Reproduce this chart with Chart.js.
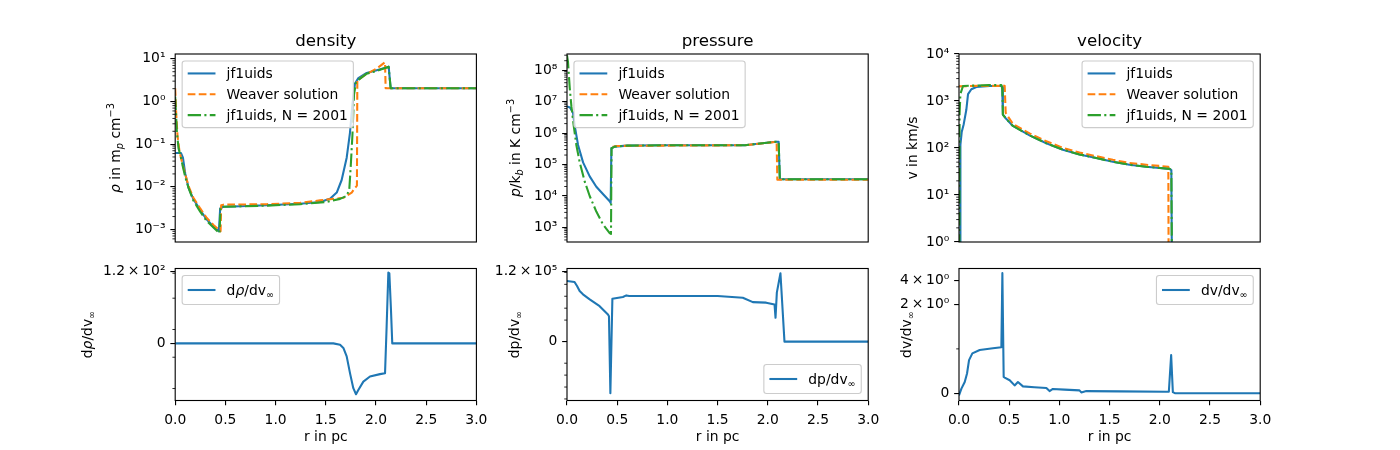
<!DOCTYPE html>
<html>
<head>
<meta charset="utf-8">
<script src="https://cdn.jsdelivr.net/npm/chart.js@4.4.1/dist/chart.umd.min.js"></script>
<style>
  body { margin: 0; background: #fff; }
  #fig { position: relative; width: 1400px; height: 450px; overflow: hidden; }
  #fig canvas { position: absolute; }
</style>
</head>
<body>
<div id="fig"></div>
<script>
// ---- values (r in pc) ----
const xTicks = [0, 0.5, 1, 1.5, 2, 2.5, 3];

// density, rho in m_p cm^-3
const rhoSimR = [0, 0.057, 0.077, 0.1, 0.133, 0.18, 0.249, 0.315, 0.381, 0.435, 0.448, 0.48, 0.58, 0.912, 1.244, 1.443, 1.542, 1.609, 1.658, 1.708, 1.741, 1.765, 1.791, 1.824, 1.907, 2.007, 2.106, 2.126, 2.146, 3.0];
const rhoSimV = [0.062, 0.062, 0.048, 0.0203, 0.0094, 0.0052, 0.00284, 0.0017, 0.00115, 0.00091, 0.0031, 0.0034, 0.00343, 0.00367, 0.004, 0.0044, 0.0052, 0.0073, 0.0144, 0.048, 0.187, 0.87, 2.65, 3.55, 4.66, 5.43, 6.24, 6.57, 2.05, 2.05];
const rhoWeaverR = [0, 0.01, 0.023, 0.043, 0.077, 0.133, 0.18, 0.249, 0.315, 0.381, 0.452, 0.458, 0.481, 0.912, 1.244, 1.443, 1.675, 1.758, 1.791, 1.81, 1.814, 1.907, 2.007, 2.09, 2.096, 3.0];
const rhoWeaverV = [2.05, 0.52, 0.157, 0.067, 0.031, 0.0103, 0.0056, 0.0031, 0.00185, 0.00127, 0.0009, 0.0037, 0.0038, 0.0039, 0.0042, 0.0048, 0.0055, 0.0073, 0.0094, 0.0106, 3.14, 4.43, 5.93, 8.32, 2.05, 2.05];
const rhoHiresR = [0, 0.017, 0.033, 0.057, 0.077, 0.1, 0.133, 0.18, 0.249, 0.315, 0.381, 0.441, 0.452, 0.48, 0.912, 1.244, 1.509, 1.642, 1.708, 1.734, 1.748, 1.765, 1.781, 1.801, 1.907, 2.007, 2.126, 2.146, 3.0];
const rhoHiresV = [1.3, 0.19, 0.08, 0.048, 0.029, 0.017, 0.0094, 0.0048, 0.0026, 0.00156, 0.00111, 0.00081, 0.0033, 0.0034, 0.0036, 0.0039, 0.0044, 0.0052, 0.0061, 0.0087, 0.029, 0.157, 1.45, 2.9, 4.5, 5.2, 6.5, 2.05, 2.05];
const densityTicks = [1e-3, 1e-2, 1e-1, 1, 10];

// pressure, p/k_b in K cm^-3
const pSimR = [0, 0.03, 0.06, 0.077, 0.11, 0.16, 0.226, 0.292, 0.358, 0.425, 0.435, 0.442, 0.475, 0.6, 1.0, 1.77, 2.08, 2.108, 2.12, 3.0];
const pSimV = [7.0e6, 6.5e6, 4.4e6, 1.7e6, 4.2e5, 1.17e5, 4.2e4, 1.96e4, 1.15e4, 6.8e3, 6.0e3, 3.3e5, 3.7e5, 4.0e5, 4.1e5, 4.1e5, 5.3e5, 5.3e5, 3.4e4, 3.4e4];
const pWeaverR = [0.455, 0.5, 1.0, 1.77, 2.075, 2.088, 2.095, 3.0];
const pWeaverV = [3.7e5, 3.9e5, 4.0e5, 4.1e5, 5.2e5, 5.2e5, 3.3e4, 3.3e4];
const pHiresR = [0, 0.01, 0.027, 0.044, 0.067, 0.093, 0.126, 0.176, 0.226, 0.292, 0.358, 0.425, 0.438, 0.444, 0.475, 0.6, 1.0, 1.77, 2.08, 2.108, 2.12, 3.0];
const pHiresV = [3.0e8, 1.8e8, 2.8e7, 6.9e6, 1.7e6, 4.2e5, 1.2e5, 2.9e4, 1.0e4, 3.2e3, 1.25e3, 660, 620, 3.3e5, 3.7e5, 4.0e5, 4.1e5, 4.1e5, 5.3e5, 5.3e5, 3.4e4, 3.4e4];
const pressureTicks = [1e3, 1e4, 1e5, 1e6, 1e7, 1e8];

// velocity, v in km/s
const vSimR = [0, 0.012, 0.014, 0.027, 0.047, 0.073, 0.09, 0.123, 0.173, 0.305, 0.42, 0.43, 0.437, 0.47, 0.537, 0.703, 0.87, 1.035, 1.2, 1.367, 1.532, 1.698, 1.865, 2.097, 2.115, 2.125, 3.0];
const vSimV = [0.01, 0.01, 117, 218, 322, 650, 1400, 1780, 1990, 2090, 2090, 2000, 513, 418, 295, 186, 126, 92, 73, 61, 51, 44, 40, 36, 34, 0.01, 0.01];
const vWeaverR = [0, 0.2, 0.455, 0.465, 0.537, 0.703, 0.87, 1.035, 1.2, 1.367, 1.532, 1.698, 1.865, 2.085, 2.09, 3.0];
const vWeaverV = [2050, 2100, 2100, 560, 325, 205, 139, 101, 80, 67, 56, 48, 44, 40, 0.01, 0.01];
const vHiresR = [0.003, 0.006, 0.014, 0.04, 0.3, 0.422, 0.432, 0.437, 0.47, 0.537, 0.703, 0.87, 1.035, 1.2, 1.367, 1.532, 1.698, 1.865, 2.097, 2.115, 2.125, 3.0];
const vHiresV = [0.01, 550, 1410, 2090, 2180, 2180, 1800, 513, 418, 295, 186, 126, 92, 73, 61, 51, 44, 40, 36, 34, 0.01, 0.01];
const velocityTicks = [1, 10, 100, 1000, 1e4];

// derivatives w.r.t. v_inf (symlog axes)
const dRhoR = [0, 1.575, 1.642, 1.675, 1.708, 1.741, 1.774, 1.801, 1.824, 1.874, 1.94, 2.04, 2.09, 2.106, 2.123, 2.133, 2.149, 2.162, 3.0];
const dRhoV = [0, 0, -0.1, -0.33, -0.94, -2.42, -9.7, -17.0, -11.4, -5.3, -3.3, -2.65, -2.42, 1.23, 107, 100, 3.5, 0, 0];
const dRhoTicks = [0, 120];
const dRhoTickLabels = ['0', '1.2\u2009×\u200910²'];
const dRhoMinor = [-10, -1, 1, 10, 100];

const dPressR = [0, 0.075, 0.1, 0.126, 0.159, 0.226, 0.325, 0.408, 0.418, 0.432, 0.452, 0.557, 0.591, 0.62, 1.0, 1.5, 1.751, 1.851, 1.984, 2.067, 2.077, 2.09, 2.126, 2.166, 3.0];
const dPressV = [19230, 15860, 7260, 2740, 1445, 546, 148, 29.6, 21, -3330, 620, 860, 1180, 1040, 1040, 1040, 760, 324, 290, 205, 15.5, 2000, 85900, 0, 0];
const dPressTicks = [0, 1.2e5];
const dPressTickLabels = ['0', '1.2\u2009×\u200910⁵'];
const dPressMinor = [-1e4, -1e3, -100, -10, 10, 100, 1e3, 1e4, 1e5];

const dVelR = [0, 0.024, 0.057, 0.08, 0.1, 0.133, 0.206, 0.338, 0.422, 0.432, 0.445, 0.455, 0.505, 0.554, 0.587, 0.637, 0.75, 0.87, 0.902, 0.935, 1.05, 1.2, 1.218, 1.268, 1.6, 2.063, 2.09, 2.113, 2.13, 2.15, 3.0];
const dVelV = [-0.045, 0.107, 0.256, 0.447, 0.748, 0.9, 0.975, 1.013, 1.036, 4.9, 0.37, 0.356, 0.295, 0.18, 0.256, 0.159, 0.14, 0.12, 0.052, 0.1, 0.085, 0.068, 0.023, 0.052, 0.045, 0.038, 0.038, 0.86, 0.03, 0.005, 0.005];
const dVelTicks = [0, 2, 4];
const dVelTickLabels = ['0', '2\u2009×\u200910⁰', '4\u2009×\u200910⁰'];
const dVelMinor = [1];

// ---- matplotlib look ----
const PT = 100 / 72;
const FS = 10 * PT;
const FONT = 'DejaVu Sans';
const LW = 1.5 * PT;
const C0 = '#1f77b4', C1 = '#ff7f0e', C2 = '#2ca02c';
const DASHED = [3.7 * LW, 1.6 * LW];
const DASHDOT = [6.4 * LW, 1.6 * LW, 1 * LW, 1.6 * LW];

const COLS = [175.2, 567, 959];
const AX_W = 301.2;
const ROWS = [{ top: 54, bottom: 252 }, { top: 268.5, bottom: 400.5 }];

// symlog transform, linthresh 2, linscale 1 (matplotlib default)
const LINTHRESH = 2;
const LINSCALE_ADJ = 1 / (1 - 1 / 10);
function symlog(v) {
  const a = Math.abs(v);
  if (a <= LINTHRESH) return v * LINSCALE_ADJ;
  return Math.sign(v) * LINTHRESH * (LINSCALE_ADJ + Math.log10(a / LINTHRESH));
}
function symexp(u) {
  const a = Math.abs(u);
  if (a <= LINTHRESH * LINSCALE_ADJ) return u / LINSCALE_ADJ;
  return Math.sign(u) * LINTHRESH * Math.pow(10, a / LINTHRESH - LINSCALE_ADJ);
}

class SymlogScale extends Chart.LinearScale {
  getPixelForValue(value) {
    if (value === null || isNaN(value)) return NaN;
    const lo = symlog(this.min), hi = symlog(this.max);
    return this.getPixelForDecimal((symlog(value) - lo) / (hi - lo));
  }
  getValueForPixel(pixel) {
    const lo = symlog(this.min), hi = symlog(this.max);
    return symexp(lo + this.getDecimalForPixel(pixel) * (hi - lo));
  }
}
SymlogScale.id = 'symlog';
SymlogScale.defaults = {};
Chart.register(SymlogScale);

const SUP = { '-': '⁻', '0': '⁰', '1': '¹', '2': '²', '3': '³', '4': '⁴', '5': '⁵', '6': '⁶', '7': '⁷', '8': '⁸', '9': '⁹' };
function pow10Label(v) {
  const e = Math.round(Math.log10(v));
  return '10' + String(e).split('').map(c => SUP[c]).join('');
}

function logMinors(lo, hi) {
  const out = [];
  for (let e = Math.floor(Math.log10(lo)); e <= Math.ceil(Math.log10(hi)); e++) {
    for (let k = 2; k <= 9; k++) {
      const v = k * Math.pow(10, e);
      if (v >= lo && v <= hi) out.push(v);
    }
  }
  return out;
}

// rich text: [{t, it, sub, sup}], y is the cap-height centre
function segFont(s, size) {
  const sz = (s.sub || s.sup) ? size * 0.7 : size;
  return (s.it ? 'italic ' : '') + sz + 'px "' + FONT + '"';
}
function richWidth(ctx, segs, size) {
  let w = 0;
  segs.forEach(s => { ctx.font = segFont(s, size); w += ctx.measureText(s.t).width; });
  return w;
}
function drawRich(ctx, segs, x, y, size, align) {
  const w = richWidth(ctx, segs, size);
  let cx = align === 'center' ? x - w / 2 : x;
  ctx.textAlign = 'left';
  ctx.textBaseline = 'alphabetic';
  ctx.fillStyle = '#000';
  segs.forEach(s => {
    ctx.font = segFont(s, size);
    const dy = s.sup ? -size * 0.42 : s.sub ? size * 0.2 : 0;
    ctx.fillText(s.t, cx, y + size * 0.36 + dy);
    cx += ctx.measureText(s.t).width;
  });
  return w;
}

function roundRect(ctx, x, y, w, h, r) {
  ctx.beginPath();
  ctx.moveTo(x + r, y);
  ctx.lineTo(x + w - r, y);
  ctx.arcTo(x + w, y, x + w, y + r, r);
  ctx.lineTo(x + w, y + h - r);
  ctx.arcTo(x + w, y + h, x + w - r, y + h, r);
  ctx.lineTo(x + r, y + h);
  ctx.arcTo(x, y + h, x, y + h - r, r);
  ctx.lineTo(x, y + r);
  ctx.arcTo(x, y, x + r, y, r);
  ctx.closePath();
}

// frame, minor ticks, title, axis labels and legend, drawn the matplotlib way
function mplDecor(p) {
  return {
    id: 'mplDecor',
    afterDatasetsDraw(chart) {
      const { ctx, chartArea: a } = chart;
      const ys = chart.scales.y;
      ctx.save();

      ctx.strokeStyle = '#000';
      ctx.lineWidth = 0.6 * PT;
      p.minor.forEach(v => {
        const py = ys.getPixelForValue(v);
        if (py < a.top - 0.5 || py > a.bottom + 0.5) return;
        ctx.beginPath();
        ctx.moveTo(a.left, py);
        ctx.lineTo(a.left - 2 * PT, py);
        ctx.stroke();
      });

      ctx.lineWidth = 0.8 * PT;
      ctx.strokeRect(a.left, a.top, a.right - a.left, a.bottom - a.top);

      const midX = (a.left + a.right) / 2;
      if (p.title) drawRich(ctx, [{ t: p.title }], midX, a.top - 14.3, 12 * PT, 'center');
      if (p.row === 1) drawRich(ctx, [{ t: 'r in pc' }], midX, a.bottom + 35.5, FS, 'center');

      ctx.save();
      ctx.translate(a.left - p.ylabelOff, (a.top + a.bottom) / 2);
      ctx.rotate(-Math.PI / 2);
      drawRich(ctx, p.ylabel, 0, 0, FS, 'center');
      ctx.restore();

      // legend
      const pad = 0.4 * FS, handle = 2 * FS, textPad = 0.8 * FS, gap = 0.5 * FS;
      const rowH = p.legendRowH;
      const items = p.legend;
      let tw = 0;
      items.forEach(segs => { tw = Math.max(tw, richWidth(ctx, segs, FS)); });
      const bw = pad + handle + textPad + tw + pad;
      const bh = 2 * pad + items.length * rowH + (items.length - 1) * gap;
      const off = 0.5 * FS;
      const bx = p.legendLoc.includes('left') ? a.left + off : a.right - off - bw;
      const by = p.legendLoc.includes('upper') ? a.top + off : a.bottom - off - bh;
      roundRect(ctx, bx, by, bw, bh, 0.2 * FS);
      ctx.fillStyle = 'rgba(255,255,255,0.8)';
      ctx.fill();
      ctx.strokeStyle = '#cccccc';
      ctx.lineWidth = 0.8 * PT;
      ctx.stroke();
      items.forEach((segs, i) => {
        const ds = chart.data.datasets[i];
        const cy = by + pad + rowH / 2 + i * (rowH + gap);
        ctx.beginPath();
        ctx.setLineDash(ds.borderDash || []);
        ctx.strokeStyle = ds.borderColor;
        ctx.lineWidth = ds.borderWidth;
        ctx.moveTo(bx + pad, cy);
        ctx.lineTo(bx + pad + handle, cy);
        ctx.stroke();
        ctx.setLineDash([]);
        drawRich(ctx, segs, bx + pad + handle + textPad, cy, FS, 'left');
      });

      ctx.restore();
    }
  };
}

const simLegend = [[{ t: 'jf1uids' }], [{ t: 'Weaver solution' }], [{ t: 'jf1uids, N = 2001' }]];
const simLabels = ['jf1uids', 'Weaver solution', 'jf1uids, N = 2001'];

const panels = [
  {
    col: 0, row: 0, yType: 'logarithmic', yMin: 5.06e-4, yMax: 13,
    ticks: densityTicks, tickLabels: densityTicks.map(pow10Label), minor: logMinors(5.06e-4, 13),
    title: 'density', ylabelOff: 60,
    ylabel: [{ t: 'ρ', it: true }, { t: ' in m' }, { t: 'p', it: true, sub: true }, { t: ' cm' }, { t: '−3', sup: true }],
    series: [[rhoSimR, rhoSimV], [rhoWeaverR, rhoWeaverV], [rhoHiresR, rhoHiresV]],
    labels: simLabels, legend: simLegend, legendLoc: 'upper left', legendRowH: FS
  },
  {
    col: 1, row: 0, yType: 'logarithmic', yMin: 344, yMax: 3.27e8,
    ticks: pressureTicks, tickLabels: pressureTicks.map(pow10Label), minor: logMinors(344, 3.27e8),
    title: 'pressure', ylabelOff: 52,
    ylabel: [{ t: 'p', it: true }, { t: '/k' }, { t: 'b', it: true, sub: true }, { t: ' in K cm' }, { t: '−3', sup: true }],
    series: [[pSimR, pSimV], [pWeaverR, pWeaverV], [pHiresR, pHiresV]],
    labels: simLabels, legend: simLegend, legendLoc: 'upper left', legendRowH: FS
  },
  {
    col: 2, row: 0, yType: 'logarithmic', yMin: 1, yMax: 1e4,
    ticks: velocityTicks, tickLabels: velocityTicks.map(pow10Label), minor: logMinors(1, 1e4),
    title: 'velocity', ylabelOff: 47,
    ylabel: [{ t: 'v in km/s' }],
    series: [[vSimR, vSimV], [vWeaverR, vWeaverV], [vHiresR, vHiresV]],
    labels: simLabels, legend: simLegend, legendLoc: 'upper right', legendRowH: FS
  },
  {
    col: 0, row: 1, yType: 'symlog', yMin: -30.2, yMax: 155,
    ticks: dRhoTicks, tickLabels: dRhoTickLabels, minor: dRhoMinor,
    ylabelOff: 88,
    ylabel: [{ t: 'd' }, { t: 'ρ', it: true }, { t: '/dv' }, { t: '∞', sub: true }],
    series: [[dRhoR, dRhoV]],
    labels: ['dρ/dv∞'], legend: [[{ t: 'd' }, { t: 'ρ', it: true }, { t: '/dv' }, { t: '∞', sub: true }]],
    legendLoc: 'upper left', legendRowH: 18
  },
  {
    col: 1, row: 1, yType: 'symlog', yMin: -13500, yMax: 2.14e5,
    ticks: dPressTicks, tickLabels: dPressTickLabels, minor: dPressMinor,
    ylabelOff: 53,
    ylabel: [{ t: 'dp/dv' }, { t: '∞', sub: true }],
    series: [[dPressR, dPressV]],
    labels: ['dp/dv∞'], legend: [[{ t: 'dp/dv' }, { t: '∞', sub: true }]],
    legendLoc: 'lower right', legendRowH: 18
  },
  {
    col: 2, row: 1, yType: 'symlog', yMin: -0.159, yMax: 5.6,
    ticks: dVelTicks, tickLabels: dVelTickLabels, minor: dVelMinor,
    ylabelOff: 53,
    ylabel: [{ t: 'dv/dv' }, { t: '∞', sub: true }],
    series: [[dVelR, dVelV]],
    labels: ['dv/dv∞'], legend: [[{ t: 'dv/dv' }, { t: '∞', sub: true }]],
    legendLoc: 'upper right', legendRowH: 18
  }
];

const STYLES = [
  { borderColor: C0, borderDash: [], order: 3 },
  { borderColor: C1, borderDash: DASHED, order: 2 },
  { borderColor: C2, borderDash: DASHDOT, order: 1 }
];

const fig = document.getElementById('fig');
const tickFont = { family: FONT, size: FS };

panels.forEach(p => {
  const col = COLS[p.col], row = ROWS[p.row];
  const cl = Math.floor(col) - 110;
  const ct = p.row === 0 ? 0 : 256;
  const cw = 440, ch = p.row === 0 ? 262 : 194;
  const canvas = document.createElement('canvas');
  canvas.width = cw;
  canvas.height = ch;
  canvas.style.left = cl + 'px';
  canvas.style.top = ct + 'px';
  fig.appendChild(canvas);

  const xH = ch - (row.bottom - ct);
  const padding = {
    left: col - cl - 100,
    top: row.top - ct,
    right: cw - (col - cl) - AX_W,
    bottom: p.row === 0 ? xH : 0
  };

  const datasets = p.series.map(([rs, vs], i) => ({
    label: p.labels[i],
    data: rs.map((r, k) => ({ x: r, y: vs[k] })),
    borderColor: STYLES[i].borderColor,
    borderDash: STYLES[i].borderDash,
    order: STYLES[i].order,
    borderWidth: LW,
    borderJoinStyle: 'round',
    pointRadius: 0,
    tension: 0,
    fill: false
  }));

  new Chart(canvas, {
    type: 'line',
    data: { datasets },
    options: {
      responsive: false,
      animation: false,
      events: [],
      layout: { padding, autoPadding: false },
      plugins: { legend: { display: false }, tooltip: { enabled: false }, title: { display: false } },
      scales: {
        x: {
          type: 'linear', min: 0, max: 3, bounds: 'data',
          display: p.row === 1,
          afterBuildTicks: s => { s.ticks = xTicks.map(v => ({ value: v })); },
          afterFit: s => { s.height = xH; s.paddingLeft = 0; s.paddingRight = 0; },
          ticks: { callback: v => v.toFixed(1), font: tickFont, color: '#000', padding: 0.35 * FS + 1.5, maxRotation: 0, autoSkip: false },
          grid: { drawOnChartArea: false, drawTicks: true, tickLength: 3.5 * PT, color: '#000', lineWidth: 0.8 * PT },
          border: { display: false }
        },
        y: {
          type: p.yType, min: p.yMin, max: p.yMax, bounds: 'data',
          afterBuildTicks: s => { s.ticks = p.ticks.map(v => ({ value: v })); },
          afterFit: s => { s.width = 100; s.paddingTop = 0; s.paddingBottom = 0; },
          ticks: {
            callback: v => { const i = p.ticks.indexOf(v); return i >= 0 ? p.tickLabels[i] : ''; },
            font: tickFont, color: '#000', padding: 0.35 * FS, autoSkip: false
          },
          grid: { drawOnChartArea: false, drawTicks: true, tickLength: 3.5 * PT, color: '#000', lineWidth: 0.8 * PT },
          border: { display: false }
        }
      }
    },
    plugins: [mplDecor(p)]
  });
});
</script>
</body>
</html>
